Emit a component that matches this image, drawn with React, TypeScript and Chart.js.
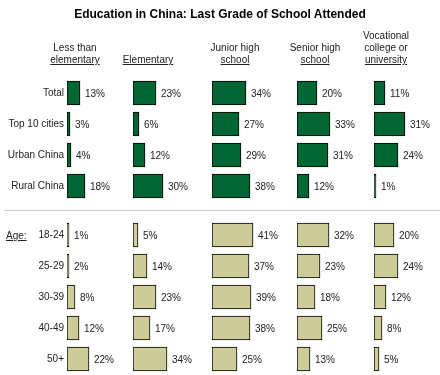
import React, { useEffect, useRef } from "react";
import { Chart, registerables } from "chart.js";

Chart.register(...registerables);

// ---- data ----
const chartTitle = "Education in China: Last Grade of School Attended";
const columnHeaders: string[][] = [
  ["Less than", "elementary"],
  ["Elementary"],
  ["Junior high", "school"],
  ["Senior high", "school"],
  ["Vocational", "college or", "university"],
];
const groupRows = ["Total", "Top 10 cities", "Urban China", "Rural China"];
const ageRows = ["18-24", "25-29", "30-39", "40-49", "50+"];
const ageLabel = "Age:";

const lessThanElementary = [13, 3, 4, 18];
const elementary = [23, 6, 12, 30];
const juniorHigh = [34, 27, 29, 38];
const seniorHigh = [20, 33, 31, 12];
const vocational = [11, 31, 24, 1];

const ageLessThanElementary = [1, 2, 8, 12, 22];
const ageElementary = [5, 14, 23, 17, 34];
const ageJuniorHigh = [41, 37, 39, 38, 25];
const ageSeniorHigh = [32, 23, 18, 25, 13];
const ageVocational = [20, 24, 12, 8, 5];

// ---- layout / style ----
const FONT = '"Liberation Sans", Arial, Helvetica, sans-serif';
const TEXT = "#222";
const GREEN = "#006633";
const TAN = "#cccc99";
const colWidths = [66, 79, 85, 77, 66]; // px per column panel (1px = 1%)
const headerCenters = [75, 148, 235, 315, 386];

const valueLabels = {
  id: "valueLabels",
  afterDatasetsDraw(chart: any) {
    const ctx = chart.ctx;
    ctx.save();
    ctx.font = `10px ${FONT}`;
    ctx.fillStyle = TEXT;
    ctx.textBaseline = "middle";
    ctx.textAlign = "left";
    chart.data.datasets.forEach((ds: any, i: number) => {
      const meta = chart.getDatasetMeta(i);
      meta.data.forEach((bar: any, j: number) => {
        ctx.fillText(`${ds.data[j]}%`, bar.x + 5, bar.y + 1);
      });
    });
    ctx.restore();
  },
};

const separator = {
  id: "separator",
  beforeDatasetsDraw(chart: any) {
    const gap = chart.scales.yGap;
    if (!gap) return;
    const y = Math.floor((gap.top + gap.bottom) / 2) + 0.5;
    const ctx = chart.ctx;
    ctx.save();
    ctx.strokeStyle = "#cccccc";
    ctx.lineWidth = 1;
    ctx.beginPath();
    ctx.moveTo(4, y);
    ctx.lineTo(chart.width, y);
    ctx.stroke();
    ctx.restore();
  },
};

export default function App() {
  const canvasRef = useRef<HTMLCanvasElement | null>(null);

  useEffect(() => {
    if (!canvasRef.current) return;
    Chart.defaults.font.family = FONT;

    const regionCols = [lessThanElementary, elementary, juniorHigh, seniorHigh, vocational];
    const ageCols = [ageLessThanElementary, ageElementary, ageJuniorHigh, ageSeniorHigh, ageVocational];

    const scales: any = {};
    colWidths.forEach((w, i) => {
      scales[`x${i + 1}`] = {
        type: "linear",
        position: "bottom",
        stack: "cols",
        stackWeight: w,
        weight: i + 1,
        min: 0,
        max: w,
        display: false,
      };
    });
    const yCommon = {
      type: "category",
      position: "left",
      stack: "rows",
      offset: true,
      grid: { display: false, drawTicks: false },
      border: { display: false },
      ticks: { padding: 3, color: TEXT, font: { size: 10, family: FONT }, autoSkip: false },
      afterFit: (s: any) => {
        s.width = 67;
        s.paddingTop = 0;
        s.paddingBottom = 0;
      },
    };
    scales.yReg = { ...yCommon, labels: groupRows, stackWeight: 124, weight: 3 };
    scales.yGap = {
      type: "category",
      position: "left",
      stack: "rows",
      labels: [""],
      stackWeight: 18,
      weight: 2,
      display: false,
      afterFit: (s: any) => {
        s.paddingTop = 0;
        s.paddingBottom = 0;
      },
    };
    scales.yAge = { ...yCommon, labels: ageRows, stackWeight: 155, weight: 1 };

    const mk = (data: number[], col: number, yId: string, color: string) => ({
      data,
      xAxisID: `x${col + 1}`,
      yAxisID: yId,
      backgroundColor: color,
      borderColor: "#000",
      borderWidth: 1,
      borderSkipped: false,
      barThickness: 24,
      minBarLength: 2,
      grouped: false,
    });

    const datasets = [
      ...regionCols.map((d, i) => mk(d, i, "yReg", GREEN)),
      ...ageCols.map((d, i) => mk(d, i, "yAge", TAN)),
    ];

    const chart = new Chart(canvasRef.current, {
      type: "bar",
      data: { datasets } as any,
      options: {
        indexAxis: "y",
        responsive: false,
        animation: false,
        events: [],
        layout: { padding: { top: 77.5, bottom: 0.5, left: 0, right: 0 } },
        plugins: { legend: { display: false }, tooltip: { enabled: false }, title: { display: false } },
        scales,
      } as any,
      plugins: [separator, valueLabels],
    });
    return () => chart.destroy();
  }, []);

  return (
    <div
      style={{
        position: "absolute",
        left: 0,
        top: 0,
        width: 440,
        height: 375,
        overflow: "hidden",
        background: "#fff",
        fontFamily: FONT,
        color: TEXT,
      }}
    >
      <canvas ref={canvasRef} width={440} height={375} style={{ position: "absolute", left: 0, top: 0, display: "block" }} />
      <div
        style={{
          position: "absolute",
          left: 0,
          top: 7,
          width: 440,
          textAlign: "center",
          fontWeight: "bold",
          fontSize: 12,
          lineHeight: "14px",
          color: "#000",
        }}
      >
        {chartTitle}
      </div>
      {columnHeaders.map((lines, i) => (
        <div
          key={i}
          style={{
            position: "absolute",
            left: headerCenters[i] - 50,
            width: 100,
            top: 30,
            height: 36,
            display: "flex",
            flexDirection: "column",
            justifyContent: "flex-end",
            alignItems: "center",
            fontSize: 10,
            lineHeight: "12px",
            whiteSpace: "nowrap",
          }}
        >
          {lines.map((t, j) => (
            <span key={j} style={{ textDecoration: j === lines.length - 1 ? "underline" : "none" }}>
              {t}
            </span>
          ))}
        </div>
      ))}
      <div
        style={{
          position: "absolute",
          left: 6,
          top: 230,
          fontSize: 10,
          lineHeight: "12px",
          textDecoration: "underline",
        }}
      >
        {ageLabel}
      </div>
    </div>
  );
}
